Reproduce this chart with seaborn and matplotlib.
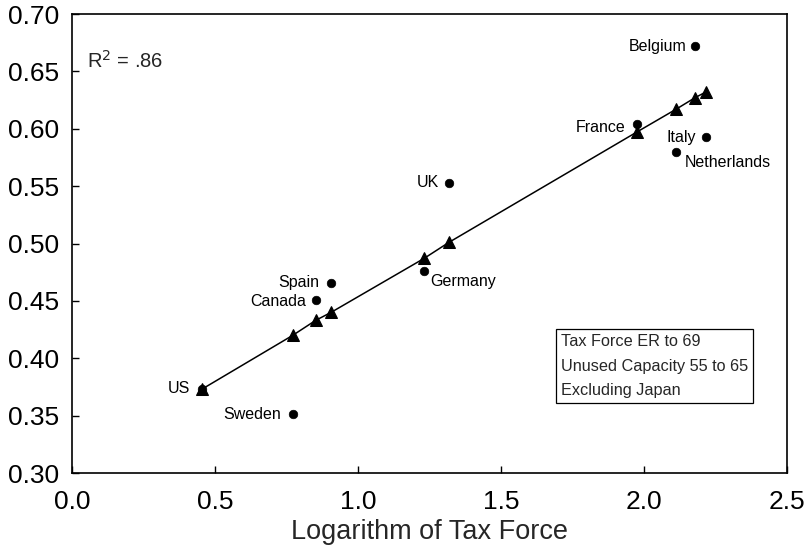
import matplotlib
matplotlib.use("Agg")
import matplotlib.pyplot as plt
import seaborn as sns
import pandas as pd

countries = ["US", "Sweden", "Canada", "Spain", "Germany", "UK",
             "France", "Netherlands", "Belgium", "Italy"]
log_tax_force = [0.454, 0.772, 0.852, 0.906, 1.231, 1.318,
                 1.974, 2.112, 2.178, 2.216]
observed = [0.373, 0.351, 0.451, 0.466, 0.476, 0.553,
            0.604, 0.580, 0.672, 0.593]
fitted = [0.373, 0.420, 0.433, 0.440, 0.487, 0.501,
          0.597, 0.617, 0.627, 0.632]
x_ticks = [0.0, 0.5, 1.0, 1.5, 2.0, 2.5]
y_ticks = [0.30, 0.35, 0.40, 0.45, 0.50, 0.55, 0.60, 0.65, 0.70]

# label offsets in pixels (dx, dy, ha)
label_pos = {
    "US": (-12, 1, "right"),
    "Sweden": (-12, 0, "right"),
    "Canada": (-10, -2, "right"),
    "Spain": (-12, 0, "right"),
    "Germany": (6, -10, "left"),
    "UK": (-10, 0, "right"),
    "France": (-11, -3, "right"),
    "Netherlands": (9, -11, "left"),
    "Belgium": (-8, 0, "right"),
    "Italy": (-10, -1, "right"),
}

df = pd.DataFrame({"country": countries, "x": log_tax_force,
                   "observed": observed, "fitted": fitted})

sns.set_style("ticks")
plt.rcParams["font.family"] = ["Liberation Sans", "DejaVu Sans"]

fig = plt.figure(figsize=(8.06, 5.52), dpi=100)
ax = fig.add_axes([0.0893, 0.1431, 0.8871, 0.8315])

sns.lineplot(data=df, x="x", y="fitted", ax=ax, color="black", lw=1.1,
             marker="^", markersize=8, markeredgecolor="black",
             markerfacecolor="black", zorder=2)
sns.scatterplot(data=df, x="x", y="observed", ax=ax, color="black",
                s=38, edgecolor="black", zorder=3)

for c, xv, yv in zip(countries, log_tax_force, observed):
    dx, dy, ha = label_pos[c]
    ax.annotate(c, (xv, yv), xytext=(dx, dy), textcoords="offset pixels",
                ha=ha, va="center", fontsize=11.5, color="black")

ax.text(0.021, 0.898, "R$^2$ = .86", transform=ax.transAxes, fontsize=14.5,
        va="center", ha="left")

ax.text(0.684, 0.233, "Tax Force ER to 69\nUnused Capacity 55 to 65\nExcluding Japan",
        transform=ax.transAxes, fontsize=11.7, va="center", ha="left",
        linespacing=1.8,
        bbox=dict(boxstyle="square,pad=0.3", facecolor="white",
                  edgecolor="black", linewidth=0.9))

ax.set_xlim(0, 2.5)
ax.set_ylim(0.30, 0.70)
ax.set_xticks(x_ticks)
ax.set_xticklabels([f"{t:.1f}" for t in x_ticks])
ax.set_yticks(y_ticks)
ax.set_yticklabels([f"{t:.2f}" for t in y_ticks])
ax.tick_params(direction="in", length=5, width=1, labelsize=19, colors="black")
ax.tick_params(axis="x", pad=12)
ax.tick_params(axis="y", pad=9)
ax.set_xlabel("Logarithm of Tax Force", fontsize=19.5, labelpad=4)
ax.set_ylabel("")
for s in ax.spines.values():
    s.set_visible(True)
    s.set_color("black")
    s.set_linewidth(1.2)

fig.savefig("out.png", dpi=100)
